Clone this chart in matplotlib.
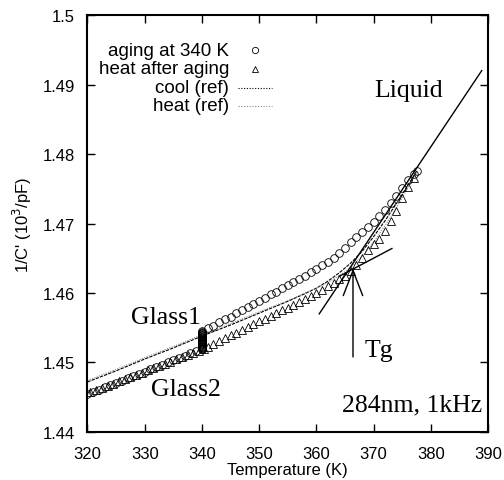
import matplotlib
matplotlib.use("Agg")
import matplotlib.pyplot as plt

plt.rcParams['font.family'] = ['Liberation Sans', 'DejaVu Sans']

# heating 320 -> 340 K before aging (circles)
T_low = [320, 321, 322, 323, 324, 325, 326, 327, 328, 329, 330,
         331, 332, 333, 334, 335, 336, 337, 338, 339, 340]
v_low = [1.4455, 1.4458, 1.4461, 1.4465, 1.4468, 1.4471, 1.4474, 1.4477, 1.4481, 1.4484, 1.4487,
         1.4490, 1.4493, 1.4497, 1.4500, 1.4503, 1.4506, 1.4509, 1.4513, 1.4516, 1.4519]

# isothermal aging at 340 K
T_age = [340] * 27
v_age = [1.4519, 1.4520, 1.4521, 1.4522, 1.4523, 1.4524, 1.4525, 1.4526, 1.4527,
         1.4528, 1.4529, 1.4530, 1.4531, 1.4532, 1.4533, 1.4534, 1.4535, 1.4536,
         1.4537, 1.4538, 1.4539, 1.4540, 1.4541, 1.4542, 1.4543, 1.4544, 1.4545]

# continued heating after aging (circles)
T_up = [341, 342, 343, 344, 345, 346, 347, 348, 349, 350, 351, 352, 353, 354, 355, 356, 357, 358, 359,
        360, 361, 362, 363, 364, 365, 366, 367, 368, 369, 370, 371, 372, 373, 374, 375, 376, 377, 377.5]
v_up = [1.4549, 1.4553, 1.4558, 1.4562, 1.4566, 1.4571, 1.4575, 1.4580, 1.4584, 1.4589, 1.4593,
        1.4598, 1.4602, 1.4607, 1.4611, 1.4616, 1.4620, 1.4625, 1.4630, 1.4635, 1.4640, 1.4645,
        1.4651, 1.4658, 1.4665, 1.4673, 1.4681, 1.4688, 1.4695, 1.4702, 1.4711, 1.4720, 1.4729,
        1.4740, 1.4751, 1.4762, 1.4771, 1.4775]

# heat after aging (triangles)
T_tri = [320.5, 321.5, 322.5, 323.5, 324.5, 325.5, 326.5, 327.5, 328.5, 329.5,
         330.5, 331.5, 332.5, 333.5, 334.5, 335.5, 336.5, 337.5, 338.5, 339.5, 340.3,
         341, 342, 343, 344, 345, 346, 347, 348, 349, 350, 351, 352, 353, 354, 355, 356, 357, 358, 359,
         360, 361, 362, 363, 364, 365, 366, 367, 368, 369, 370, 371, 372, 373, 374, 375, 376, 377]
v_tri = [1.4457, 1.4460, 1.4463, 1.4466, 1.4469, 1.4473, 1.4476, 1.4479, 1.4482, 1.4485,
         1.4489, 1.4492, 1.4495, 1.4498, 1.4501, 1.4505, 1.4508, 1.4511, 1.4514, 1.4517, 1.4520,
         1.4523, 1.4527, 1.4531, 1.4535, 1.4539, 1.4543, 1.4547, 1.4551, 1.4555, 1.4559, 1.4563,
         1.4567, 1.4571, 1.4575, 1.4579, 1.4583, 1.4587, 1.4591, 1.4596, 1.4600, 1.4605, 1.4610,
         1.4615, 1.4620, 1.4625, 1.4631, 1.4640, 1.4651, 1.4662, 1.4671, 1.4678, 1.4689, 1.4703,
         1.4718, 1.4736, 1.4752, 1.4766]

# reference runs
T_ref = [320, 325, 330, 335, 340, 345, 350, 355, 358, 360, 362, 364, 366, 368, 370, 372, 374, 376, 377.5]
v_cool = [1.4472, 1.4488, 1.4505, 1.4521, 1.4538, 1.4554, 1.4571, 1.4588, 1.4599, 1.4607,
          1.4617, 1.4629, 1.4643, 1.4660, 1.4681, 1.4704, 1.4729, 1.4755, 1.4775]
v_heat = [1.4474, 1.4490, 1.4507, 1.4523, 1.4540, 1.4556, 1.4573, 1.4589, 1.4600, 1.4607,
          1.4615, 1.4625, 1.4637, 1.4653, 1.4673, 1.4697, 1.4723, 1.4751, 1.4772]

# fit lines
T_liq = [360.5, 388.9]
v_liq = [1.4570, 1.4920]
T_gl = [364.0, 373.2]
v_gl = [1.4624, 1.4664]

Tg = 366.4
xticks = [320, 330, 340, 350, 360, 370, 380, 390]
yticks = [1.44, 1.45, 1.46, 1.47, 1.48, 1.49, 1.5]
ylabels = ['1.44', '1.45', '1.46', '1.47', '1.48', '1.49', '1.5']

fig = plt.figure(figsize=(5.04, 4.81), dpi=100)
ax = fig.add_axes([0.1736, 0.0998, 0.7947, 0.8669])

mk = dict(ms=5.5, mfc='none', mec='black', mew=0.6, ls='none')
ax.plot(T_ref, v_cool, color='black', lw=0.8, ls=(0, (3, 1)))
ax.plot(T_ref, v_heat, color='#888888', lw=0.8, ls=(0, (1, 1.2)))
ax.plot(T_tri, v_tri, marker='^', **mk)
ax.plot(T_low, v_low, marker='o', **mk)
ax.plot(T_age, v_age, marker='o', **mk)
ax.plot(T_up, v_up, marker='o', **mk)
ax.plot(T_liq, v_liq, color='black', lw=1)
ax.plot(T_gl, v_gl, color='black', lw=1)

ax.annotate('', xy=(Tg, 1.4635), xytext=(Tg, 1.4508),
            arrowprops=dict(arrowstyle='->,head_length=0.9,head_width=0.35',
                            color='black', lw=1, mutation_scale=20, shrinkA=0, shrinkB=0))

serif = dict(family=['Liberation Serif', 'DejaVu Serif'], fontsize=18.5)
ax.text(376.1, 1.4892, 'Liquid', ha='center', va='center', **serif)
ax.text(333.7, 1.4565, 'Glass1', ha='center', va='center', **serif)
ax.text(337.2, 1.4462, 'Glass2', ha='center', va='center', **serif)
ax.text(371.0, 1.4518, 'Tg', ha='center', va='center', **serif)
ax.text(376.7, 1.4440, '284nm, 1kHz', ha='center', va='center', **serif)

# legend drawn gnuplot style: right-aligned text, sample on the right
rows = [0.916, 0.871, 0.825, 0.782]
names = ['aging at 340 K', 'heat after aging', 'cool (ref)', 'heat (ref)']
for y, name in zip(rows, names):
    ax.text(0.354, y, name, transform=ax.transAxes, ha='right', va='center', fontsize=13.5)
lk = dict(mk, ms=4.5)
ax.plot([0.418], [rows[0]], marker='o', transform=ax.transAxes, **lk)
ax.plot([0.418], [rows[1]], marker='^', transform=ax.transAxes, **lk)
ax.plot([0.376, 0.461], [rows[2]] * 2, color='black', lw=0.8, ls=(0, (1, 1.5)), transform=ax.transAxes)
ax.plot([0.376, 0.461], [rows[3]] * 2, color='#888888', lw=0.8, ls=(0, (1, 1.5)), transform=ax.transAxes)

ax.set_xlim(320, 390)
ax.set_ylim(1.44, 1.5)
ax.set_xticks(xticks)
ax.set_yticks(yticks)
ax.set_yticklabels(ylabels)
ax.tick_params(direction='in', length=6, width=1, top=True, right=True, labelsize=12)
ax.tick_params(axis='x', pad=10)
ax.tick_params(axis='y', pad=9)
for s in ax.spines.values():
    s.set_linewidth(1.5)
ax.set_xlabel('Temperature (K)', fontsize=12, labelpad=1)
ax.set_ylabel("1/C' (10$^3$/pF)", fontsize=12, labelpad=6)

fig.savefig('out.png', dpi=100)
